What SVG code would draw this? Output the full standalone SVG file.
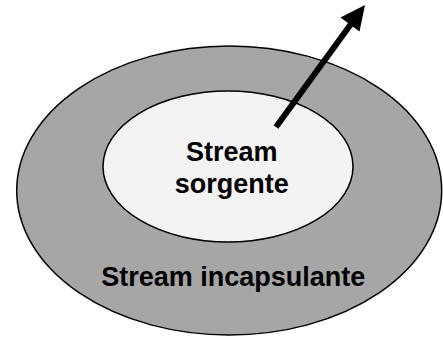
<svg xmlns="http://www.w3.org/2000/svg" width="443" height="337" viewBox="0 0 443 337">
  <style>
    .outer { fill: #a6a6a6; stroke: #000; stroke-width: 1.5; }
    .inner { fill: #f3f3f3; stroke: #000; stroke-width: 1.5; }
    .label { font-family: "Liberation Sans", Arial, sans-serif; font-weight: bold; font-size: 27px; fill: #000; text-anchor: middle; }
    .arrow-line { stroke: #000; stroke-width: 6; fill: none; }
  </style>
  <rect width="443" height="337" fill="#fff"/>
  <g id="stream-incapsulante">
    <ellipse class="outer" cx="229.2" cy="190.5" rx="212.5" ry="144.5"/>
    <text class="label" x="233.3" y="286">Stream incapsulante</text>
  </g>
  <g id="stream-sorgente">
    <ellipse class="inner" cx="228" cy="166.5" rx="125" ry="75.5"/>
    <text class="label" x="231.7" y="161">Stream</text>
    <text class="label" x="231.7" y="193.3">sorgente</text>
  </g>
  <g id="connectors">
    <line class="arrow-line" x1="276" y1="127" x2="351" y2="24"/>
    <polygon points="365,5 340.5,17.5 359.5,31.5" fill="#000"/>
  </g>
</svg>
